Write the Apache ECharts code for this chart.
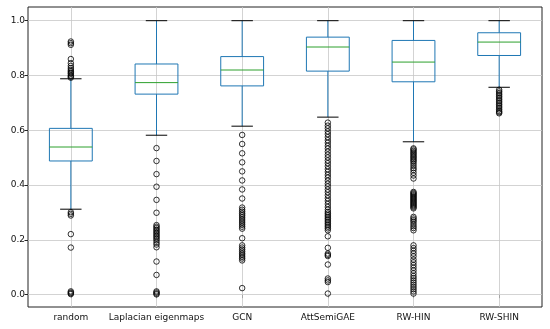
<!DOCTYPE html>
<html><head><meta charset="utf-8">
<script src="https://cdn.jsdelivr.net/npm/echarts@6/dist/echarts.min.js"></script>
<style>html,body{margin:0;padding:0;background:#fff}#c{width:550px;height:329px}</style>
</head><body><div id="c"></div>
<script>
var categories = ['random', 'Laplacian eigenmaps', 'GCN', 'AttSemiGAE', 'RW-HIN', 'RW-SHIN'];
// [lower whisker, Q1, median, Q3, upper whisker]
var boxStats = [
  [0.312, 0.488, 0.539, 0.607, 0.788],
  [0.582, 0.732, 0.774, 0.842, 1.0],
  [0.615, 0.762, 0.820, 0.869, 1.0],
  [0.648, 0.816, 0.904, 0.940, 1.0],
  [0.558, 0.777, 0.849, 0.928, 1.0],
  [0.757, 0.873, 0.922, 0.956, 1.0]
];
var outRandom = [0.924, 0.918, 0.912, 0.86, 0.845, 0.835, 0.827, 0.82, 0.815, 0.81, 0.806, 0.80, 0.796, 0.792,
  0.301, 0.295, 0.289, 0.221, 0.172, 0.012, 0.008, 0.005, 0.002];
var outLaplacian = [0.535, 0.488, 0.44, 0.394, 0.346, 0.299, 0.254, 0.248, 0.243, 0.237, 0.232, 0.226, 0.221,
  0.215, 0.21, 0.204, 0.198, 0.19, 0.183, 0.173, 0.121, 0.072, 0.012, 0.008, 0.004, 0.001];
var outGCN = [0.583, 0.55, 0.516, 0.483, 0.45, 0.417, 0.384, 0.351, 0.318, 0.31, 0.303, 0.296, 0.29, 0.283,
  0.276, 0.269, 0.262, 0.255, 0.248, 0.241, 0.206, 0.18, 0.172, 0.165, 0.158, 0.151, 0.145, 0.138, 0.132,
  0.125, 0.024];
var outAttSemiGAE = [0.628, 0.617, 0.607, 0.596, 0.586, 0.575, 0.564, 0.554, 0.543, 0.533, 0.522, 0.511,
  0.501, 0.49, 0.48, 0.469, 0.458, 0.448, 0.437, 0.427, 0.416, 0.405, 0.395, 0.384, 0.374, 0.363, 0.352,
  0.342, 0.331, 0.32, 0.31, 0.302, 0.296, 0.29, 0.284, 0.278, 0.272, 0.266, 0.26, 0.254, 0.248, 0.242,
  0.235, 0.213, 0.171, 0.15, 0.145, 0.141, 0.11, 0.059, 0.052, 0.046, 0.004];
var outRWHIN = [0.534, 0.53, 0.525, 0.52, 0.515, 0.51, 0.505, 0.5, 0.495, 0.49, 0.485, 0.478, 0.47, 0.462,
  0.455, 0.445, 0.435, 0.424, 0.375, 0.371, 0.367, 0.363, 0.359, 0.355, 0.351, 0.347, 0.343, 0.339, 0.335,
  0.331, 0.327, 0.323, 0.319, 0.315, 0.284, 0.278, 0.272, 0.266, 0.258, 0.25, 0.243, 0.235, 0.18, 0.17,
  0.16, 0.15, 0.14, 0.128, 0.118, 0.108, 0.098, 0.088, 0.078, 0.068, 0.06, 0.052, 0.044, 0.036, 0.028,
  0.02, 0.012, 0.004];
var outRWSHIN = [0.748, 0.742, 0.736, 0.73, 0.724, 0.718, 0.712, 0.706, 0.7, 0.694, 0.688, 0.682, 0.676,
  0.67, 0.666, 0.662];
var yTicks = [0, 0.2, 0.4, 0.6, 0.8, 1.0];

var outliers = [outRandom, outLaplacian, outGCN, outAttSemiGAE, outRWHIN, outRWSHIN];
var scatterData = [];
outliers.forEach(function (arr, i) { arr.forEach(function (v) { scatterData.push([i, v]); }); });
var boxData = boxStats.map(function (s, i) { return [i].concat(s); });

var font = 'DejaVu Sans';
var chart = echarts.init(document.getElementById('c'), null, {renderer: 'canvas'});
chart.setOption({
  animation: false,
  grid: {left: 28, right: 8, top: 7, bottom: 22, show: true, borderColor: '#222', borderWidth: 1, containLabel: false},
  xAxis: {
    type: 'category', data: categories, boundaryGap: true,
    axisLine: {show: false},
    axisTick: {show: true, alignWithLabel: true, length: 3.5, lineStyle: {color: '#222'}},
    axisLabel: {fontFamily: font, fontSize: 9, color: '#111', margin: 6, interval: 0},
    splitLine: {show: false}
  },
  yAxis: {
    type: 'value', min: -0.045, max: 1.05,
    axisLine: {show: false},
    axisTick: {show: true, length: 3.5, lineStyle: {color: '#222'}, customValues: yTicks},
    axisLabel: {fontFamily: font, fontSize: 9, color: '#111', margin: 3, customValues: yTicks,
      formatter: function (v) { return v.toFixed(1); }},
    splitLine: {show: false}
  },
  series: [
    {
      type: 'scatter', data: [], silent: true, z: 1,
      markLine: {
        silent: true, symbol: 'none', label: {show: false}, z: 1,
        lineStyle: {color: '#c8c8c8', width: 0.8, type: 'solid'},
        data: yTicks.map(function (v) { return {yAxis: v}; }).concat(
          categories.map(function (c) { return {xAxis: c}; }))
      }
    },
    {
      type: 'custom', data: boxData, silent: true, z: 6,
      renderItem: function (params, api) {
        var idx = api.value(0);
        var band = api.size([1, 0])[0];
        var bw = band * 0.5, cw = band * 0.25;
        var pMin = api.coord([idx, api.value(1)]);
        var pQ1 = api.coord([idx, api.value(2)]);
        var pMed = api.coord([idx, api.value(3)]);
        var pQ3 = api.coord([idx, api.value(4)]);
        var pMax = api.coord([idx, api.value(5)]);
        var cx = pQ1[0];
        var blue = '#1f77b4';
        return {
          type: 'group', children: [
            {type: 'line', shape: {x1: cx, y1: pMin[1], x2: cx, y2: pQ1[1]}, style: {stroke: blue, lineWidth: 1}},
            {type: 'line', shape: {x1: cx, y1: pQ3[1], x2: cx, y2: pMax[1]}, style: {stroke: blue, lineWidth: 1}},
            {type: 'line', shape: {x1: cx - cw / 2, y1: pMin[1], x2: cx + cw / 2, y2: pMin[1]}, style: {stroke: '#000', lineWidth: 1}},
            {type: 'line', shape: {x1: cx - cw / 2, y1: pMax[1], x2: cx + cw / 2, y2: pMax[1]}, style: {stroke: '#000', lineWidth: 1}},
            {type: 'rect', shape: {x: cx - bw / 2, y: pQ3[1], width: bw, height: pQ1[1] - pQ3[1]}, style: {stroke: blue, fill: 'none', lineWidth: 1}},
            {type: 'line', shape: {x1: cx - bw / 2, y1: pMed[1], x2: cx + bw / 2, y2: pMed[1]}, style: {stroke: '#2ca02c', lineWidth: 1}}
          ]
        };
      }
    },
    {
      type: 'scatter', data: scatterData, symbol: 'circle', symbolSize: 5.5, silent: true, z: 7,
      itemStyle: {color: 'rgba(0,0,0,0)', borderColor: '#000', borderWidth: 1}
    }
  ]
});
</script></body></html>
